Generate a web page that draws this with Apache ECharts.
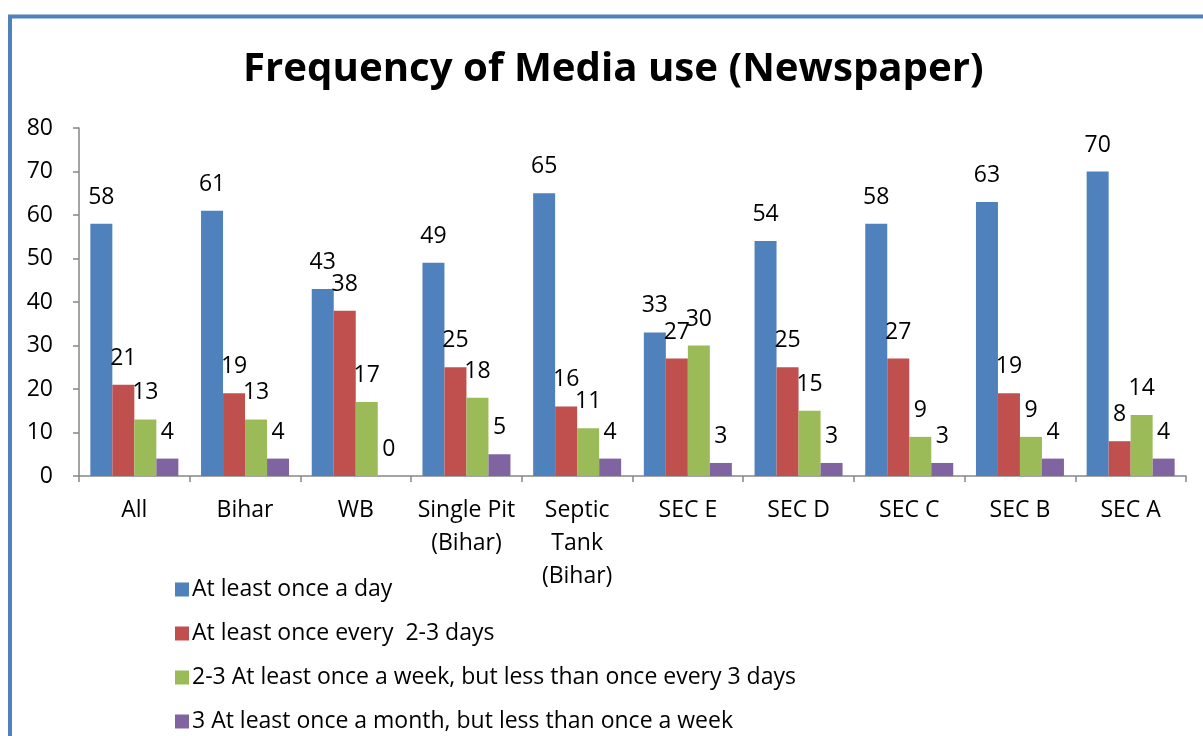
<!DOCTYPE html>
<html>
<head>
<meta charset="utf-8">
<script src="https://cdn.jsdelivr.net/npm/echarts@6/dist/echarts.min.js"></script>
<style>
html,body{margin:0;padding:0;background:#fff;}
#chart{width:1203px;height:736px;}
</style>
</head>
<body>
<div id="chart"></div>
<script>
const categories = ['All', 'Bihar', 'WB', 'Single Pit\n(Bihar)', 'Septic\nTank\n(Bihar)', 'SEC E', 'SEC D', 'SEC C', 'SEC B', 'SEC A'];
const seriesNames = [
  'At least once a day',
  'At least once every  2-3 days',
  '2-3 At least once a week, but less than once every 3 days',
  '3 At least once a month, but less than once a week'
];
const dailyValues = [58, 61, 43, 49, 65, 33, 54, 58, 63, 70];
const every2to3Values = [21, 19, 38, 25, 16, 27, 25, 27, 19, 8];
const weeklyValues = [13, 13, 17, 18, 11, 30, 15, 9, 9, 14];
const monthlyValues = [4, 4, 0, 5, 4, 3, 3, 3, 4, 4];
const yTicks = { min: 0, max: 80, interval: 10 };

const colors = ['#4F81BD', '#C0504D', '#9BBB59', '#8064A2'];
const FONT = '"Open Sans", sans-serif';
const FS = 23;
const allValues = [dailyValues, every2to3Values, weeklyValues, monthlyValues];

const chart = echarts.init(document.getElementById('chart'), null, { renderer: 'canvas' });
chart.setOption({
  animation: false,
  backgroundColor: '#ffffff',
  color: colors,
  graphic: [{
    type: 'rect',
    shape: { x: 10, y: 16.5, width: 1400, height: 1000 },
    style: { fill: 'none', stroke: '#4F81BD', lineWidth: 4 },
    silent: true,
    z: 100
  }],
  title: {
    text: 'Frequency of Media use (Newspaper)',
    left: 238,
    top: 45,
    textStyle: { fontFamily: FONT, fontWeight: 'bold', fontSize: 40.2, color: '#000' }
  },
  legend: {
    orient: 'vertical',
    left: 170,
    top: 573,
    height: 220,
    itemWidth: 14,
    itemHeight: 14,
    itemGap: 21,
    icon: 'rect',
    data: seriesNames,
    textStyle: { fontFamily: FONT, fontSize: FS, color: '#000', padding: [0, 0, 0, -2] }
  },
  grid: { left: 79, right: 17, top: 128, bottom: 260, containLabel: false },
  xAxis: {
    type: 'category',
    data: categories,
    axisLine: { lineStyle: { color: '#868686', width: 1.5 } },
    axisTick: { show: true, length: 6, lineStyle: { color: '#868686', width: 1.5 } },
    axisLabel: { fontFamily: FONT, fontSize: FS, color: '#000', margin: 18, lineHeight: 33, interval: 0 }
  },
  yAxis: {
    type: 'value',
    min: yTicks.min,
    max: yTicks.max,
    interval: yTicks.interval,
    splitLine: { show: false },
    axisLine: { show: true, lineStyle: { color: '#868686', width: 1.5 } },
    axisTick: { show: true, length: 6, lineStyle: { color: '#868686', width: 1.5 } },
    axisLabel: { fontFamily: FONT, fontSize: FS, color: '#000', margin: 26 }
  },
  series: seriesNames.map((name, i) => ({
    name: name,
    type: 'bar',
    data: allValues[i],
    barGap: '0%',
    barCategoryGap: '20.5%',
    itemStyle: { color: colors[i] },
    label: {
      show: true,
      position: 'top',
      distance: 15,
      fontFamily: FONT,
      fontSize: FS,
      color: '#000'
    }
  }))
});
</script>
</body>
</html>
